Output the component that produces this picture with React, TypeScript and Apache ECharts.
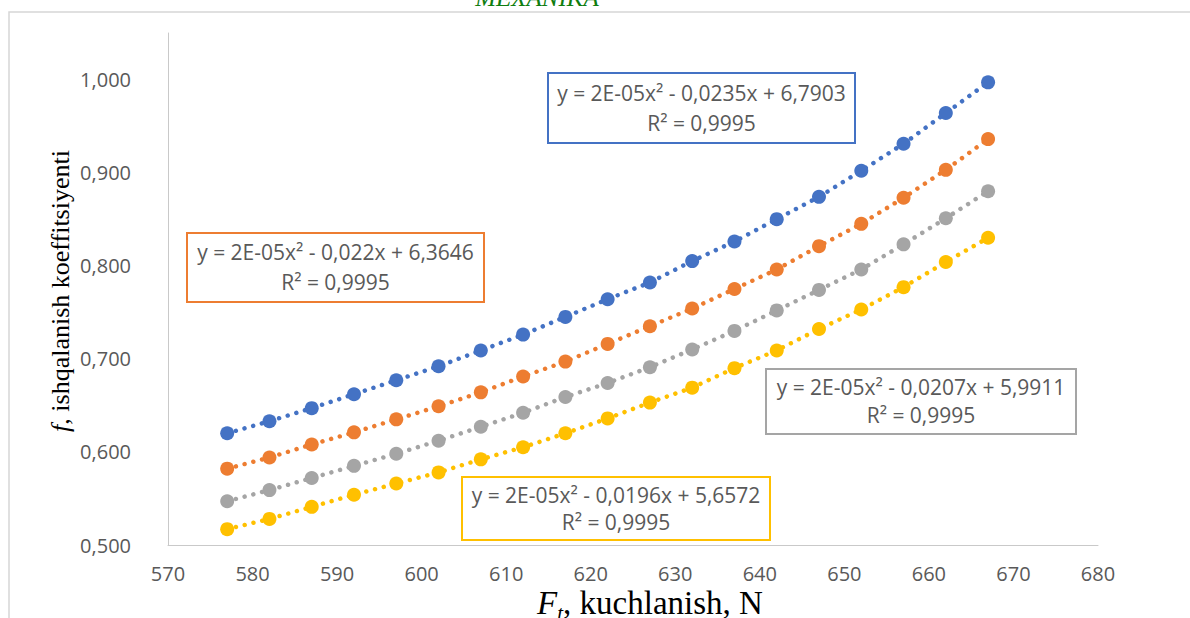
import React, { useEffect, useRef } from "react";
import * as echarts from "echarts";

// Tensile force F_t, N
const forceValues = [577, 582, 587, 592, 597, 602, 607, 612, 617, 622, 627, 632, 637, 642, 647, 652, 657, 662, 667];

// Friction coefficient f for four test sets
const seriesBlue = [0.620, 0.633, 0.647, 0.662, 0.677, 0.692, 0.709, 0.726, 0.745, 0.764, 0.782, 0.805, 0.826, 0.850, 0.874, 0.902, 0.931, 0.964, 0.997];
const seriesOrange = [0.582, 0.594, 0.608, 0.621, 0.635, 0.649, 0.664, 0.681, 0.697, 0.716, 0.735, 0.754, 0.775, 0.796, 0.821, 0.845, 0.873, 0.903, 0.936];
const seriesGray = [0.547, 0.559, 0.572, 0.585, 0.598, 0.612, 0.627, 0.642, 0.659, 0.674, 0.691, 0.710, 0.730, 0.752, 0.774, 0.796, 0.823, 0.851, 0.880];
const seriesYellow = [0.517, 0.528, 0.541, 0.554, 0.566, 0.578, 0.592, 0.605, 0.620, 0.636, 0.653, 0.669, 0.690, 0.709, 0.732, 0.753, 0.777, 0.804, 0.830];

const seriesColors = ["#4472C4", "#ED7D31", "#A5A5A5", "#FFC000"];

// Trendline equations shown in the boxes
const equations = [
  "y = 2E-05x² - 0,0235x + 6,7903",
  "y = 2E-05x² - 0,022x + 6,3646",
  "y = 2E-05x² - 0,0207x + 5,9911",
  "y = 2E-05x² - 0,0196x + 5,6572",
];
const rSquared = ["R² = 0,9995", "R² = 0,9995", "R² = 0,9995", "R² = 0,9995"];

const X_MIN = 570;
const X_MAX = 680;
const X_STEP = 10;
const Y_MIN = 0.5;
const Y_MAX = 1.05;
const Y_STEP = 0.1;

const LABEL_FONT = "'Open Sans', 'Noto Sans', sans-serif";
const SERIF_FONT = "'Liberation Serif', 'DejaVu Serif', serif";

// Equation box frames: [left, top, width, height]
const boxFrames: [number, number, number, number][] = [
  [548, 73, 307, 70],
  [187, 233, 297, 69],
  [766, 369, 310, 65],
  [462, 477, 308, 63],
];

function equationBox(i: number) {
  const [x, y, w, h] = boxFrames[i];
  const cx = x + w / 2;
  return {
    type: "group",
    children: [
      {
        type: "rect",
        shape: { x, y, width: w, height: h },
        style: { fill: "#ffffff", stroke: seriesColors[i], lineWidth: 2 },
      },
      {
        type: "text",
        x: cx,
        y: y + h * 0.28,
        style: {
          text: equations[i],
          font: `21px ${LABEL_FONT}`,
          fill: "#595959",
          align: "center",
          verticalAlign: "middle",
        },
      },
      {
        type: "text",
        x: cx,
        y: y + h * 0.71,
        style: {
          text: rSquared[i],
          font: `21px ${LABEL_FONT}`,
          fill: "#595959",
          align: "center",
          verticalAlign: "middle",
        },
      },
    ],
  };
}

function pairs(values: number[]) {
  return forceValues.map((x, i) => [x, values[i]]);
}

export default function App() {
  const ref = useRef<HTMLDivElement>(null);

  useEffect(() => {
    if (!ref.current) return;
    const chart = echarts.init(ref.current, undefined, { renderer: "svg" });
    const all = [seriesBlue, seriesOrange, seriesGray, seriesYellow];

    chart.setOption({
      animation: false,
      backgroundColor: "#ffffff",
      grid: { left: 168, right: 92, top: 33, bottom: 73, containLabel: false },
      xAxis: {
        type: "value",
        min: X_MIN,
        max: X_MAX,
        interval: X_STEP,
        axisLine: { show: true, lineStyle: { color: "#c9c9c9", width: 1 } },
        axisTick: { show: false },
        splitLine: { show: false },
        axisLabel: {
          color: "#595959",
          fontFamily: LABEL_FONT,
          fontSize: 20,
          margin: 18,
        },
      },
      yAxis: {
        type: "value",
        min: Y_MIN,
        max: Y_MAX,
        interval: Y_STEP,
        axisLine: { show: true, lineStyle: { color: "#c9c9c9", width: 1 } },
        axisTick: { show: false },
        splitLine: { show: false },
        axisLabel: {
          color: "#595959",
          fontFamily: LABEL_FONT,
          fontSize: 20,
          margin: 37,
          formatter: (v: number) => {
            const k = v / Y_STEP;
            if (Math.abs(k - Math.round(k)) > 1e-6) return "";
            return v.toFixed(3).replace(".", ",");
          },
        },
      },
      series: all.map((vals, i) => ({
        type: "line",
        data: pairs(vals),
        symbol: "circle",
        symbolSize: 14,
        showAllSymbol: true,
        itemStyle: { color: seriesColors[i] },
        lineStyle: {
          color: seriesColors[i],
          width: 4.5,
          type: [0.01, 9],
          cap: "round",
        },
        z: 2 + i,
      })),
      graphic: [
        // outer frame of the chart area
        {
          type: "rect",
          shape: { x: 9, y: 12, width: 1400, height: 800 },
          style: { fill: "none", stroke: "#d6d6d6", lineWidth: 1.5 },
          silent: true,
        },
        // running header above the frame
        {
          type: "text",
          x: 537,
          y: -3,
          style: {
            text: "MEXANIKA",
            font: `italic 25px ${SERIF_FONT}`,
            fill: "#0f7d0f",
            align: "center",
            verticalAlign: "middle",
          },
        },
        // y axis title
        {
          type: "text",
          x: 60,
          y: 291,
          rotation: Math.PI / 2,
          style: {
            text: "{i|f}, ishqalanish koeffitsiyenti",
            font: `26px ${SERIF_FONT}`,
            fill: "#000000",
            align: "center",
            verticalAlign: "middle",
            rich: {
              i: { fontStyle: "italic", fontSize: 26, fontFamily: SERIF_FONT, fill: "#000000" },
            },
          },
        },
        // x axis title
        {
          type: "text",
          x: 650,
          y: 603,
          style: {
            text: "{i|F}{s|t}, kuchlanish, N",
            font: `33px ${SERIF_FONT}`,
            fill: "#000000",
            align: "center",
            verticalAlign: "middle",
            rich: {
              i: { fontStyle: "italic", fontSize: 33, fontFamily: SERIF_FONT, fill: "#000000" },
              s: {
                fontStyle: "italic",
                fontSize: 21,
                fontFamily: SERIF_FONT,
                fill: "#000000",
                padding: [20, 0, 0, 0],
              },
            },
          },
        },
        ...boxFrames.map((_, i) => equationBox(i)),
      ],
    });

    return () => chart.dispose();
  }, []);

  return (
    <div
      ref={ref}
      style={{ position: "fixed", left: 0, top: 0, width: 1190, height: 618, background: "#fff" }}
    />
  );
}
